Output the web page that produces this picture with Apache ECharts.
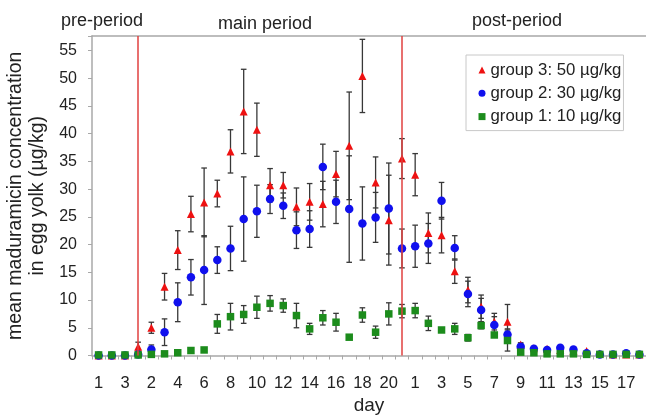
<!DOCTYPE html>
<html>
<head>
<meta charset="utf-8">
<script src="https://cdn.jsdelivr.net/npm/echarts@6/dist/echarts.min.js"></script>
<style>html,body{margin:0;padding:0;background:#fff}#c{width:646px;height:416px}</style>
</head>
<body>
<div id="c"></div>
<script>
// x categories: pre-period days 1-3, main period days 1-21, post-period days 1-18
const categories = ['1','2','3',
  '1','2','3','4','5','6','7','8','9','10','11','12','13','14','15','16','17','18','19','20','21',
  '1','2','3','4','5','6','7','8','9','10','11','12','13','14','15','16','17','18'];

// group 3: 50 µg/kg (mean, sd)
const g3 = [0,0,0, 1.6,5.0,12.4,19.0,25.5,27.6,29.2,36.8,44.0,40.7,30.7,30.7,26.8,27.7,27.3,32.7,37.8,50.4,31.2,24.4,35.5,
  32.6,22.1,21.7,15.2,11.8,8.8,6.1,6.1,2.0,1.3,1.2,1.0,0.8,0.8,0.3,0.2,0.2,0.2];
const g3err = [0,0,0, 0.8,1.0,2.4,3.5,3.2,6.2,2.4,3.9,7.6,4.8,3.0,2.3,3.4,3.3,4.1,4.1,9.7,6.6,4.6,8.1,3.6,
  3.8,3.6,3.2,2.2,2.3,2.1,1.5,3.1,0.3,0.2,0.2,0,0,0,0,0,0,0];

// group 2: 30 µg/kg
const g2 = [0,0,0, 0.2,1.1,4.2,9.6,14.1,15.4,17.2,19.3,24.6,26.0,28.2,27.0,22.6,22.8,34.0,27.7,26.4,23.8,24.9,26.5,19.3,
  19.7,20.2,27.9,19.4,11.1,8.2,5.5,3.8,1.6,1.2,1.0,1.4,1.1,0.4,0.2,0.2,0.4,0.2];
const g2err = [0,0,0, 0,0.8,2.4,3.5,3.2,6.2,2.4,4.0,7.6,4.7,2.6,2.3,3.3,3.3,4.1,3.9,9.6,6.6,4.5,8.2,3.5,
  3.8,3.6,3.3,2.2,2.3,2.1,1.5,1.0,0.4,0.3,0.3,0.2,0.2,0,0,0,0,0];

// group 1: 10 µg/kg
const g1 = [0.1,0.1,0.1, 0.1,0.2,0.3,0.5,0.9,1.0,5.7,7.0,7.4,8.7,9.4,9.0,7.2,4.8,6.8,6.0,3.3,7.3,4.2,7.5,8.0,
  8.1,5.8,4.6,4.8,3.2,5.4,3.7,2.7,0.6,0.5,0.3,0.3,0.3,0.2,0.2,0.2,0.2,0.2];
const g1err = [0,0,0, 0,0,0,0,0,0,1.7,2.4,1.6,2.0,1.4,1.2,2.2,1.0,1.3,1.6,0.3,1.3,1.1,2.0,1.2,
  1.3,1.3,0.4,1.0,0.6,0.6,0.3,1.9,0,0,0,0,0,0,0,0,0,0];

const periodLabels = ['pre-period','main period','post-period'];
const boundaryIdx = [3, 23];
const names = ['group 3: 50 µg/kg','group 2: 30 µg/kg','group 1: 10 µg/kg'];
const yTicks = [0,5,10,15,20,25,30,35,40,45,50,55];

const FONT = 'Liberation Sans, Arial, sans-serif';
const TXT = '#222';
const AX = '#a8a8a8';

function errRender(params, api){
  const x = api.value(0), v = api.value(1), e = api.value(2);
  if (!e) return null;
  const t = api.coord([x, v + e]), b = api.coord([x, v - e]);
  const w = 2.8;
  const st = {stroke:'#383838', lineWidth:1.3};
  return {type:'group', children:[
    {type:'line', shape:{x1:t[0],y1:t[1],x2:b[0],y2:b[1]}, style:st},
    {type:'line', shape:{x1:t[0]-w,y1:t[1],x2:t[0]+w,y2:t[1]}, style:st},
    {type:'line', shape:{x1:b[0]-w,y1:b[1],x2:b[0]+w,y2:b[1]}, style:st}
  ]};
}
function errData(vals, errs){ return vals.map((v,i)=>[i, v, errs[i]]); }

const chart = echarts.init(document.getElementById('c'), null, {renderer:'canvas'});
chart.setOption({
  animation:false,
  textStyle:{fontFamily:FONT},
  grid:{left:92, right:0, top:36, bottom:60.5, containLabel:false, outerBoundsMode:'none'},
  xAxis:[{
    type:'category', data:categories, boundaryGap:true,
    name:'day', nameLocation:'middle', nameGap:41,
    nameTextStyle:{fontSize:19, color:TXT, fontFamily:FONT},
    axisLine:{lineStyle:{color:AX, width:1.5}},
    axisTick:{show:true, interval:0, length:4, lineStyle:{color:AX}},
    axisLabel:{interval:1, fontSize:16.5, color:TXT, margin:19, fontFamily:FONT}
  },{
    type:'category', data:categories, position:'top',
    axisLine:{show:true, lineStyle:{color:AX, width:1.5}},
    axisTick:{show:false}, axisLabel:{show:false}
  }],
  yAxis:{
    type:'value', min:0, max:57.6, interval:5,
    name:'mean maduramicin concentration\nin egg yolk (µg/kg)',
    nameLocation:'middle', nameGap:43,
    nameTextStyle:{fontSize:19.5, lineHeight:22, color:TXT, fontFamily:FONT},
    axisLine:{show:true, lineStyle:{color:AX, width:1.5}},
    axisTick:{show:true, length:4, lineStyle:{color:AX}},
    splitLine:{show:false},
    axisLabel:{fontSize:16, color:TXT, margin:15, fontFamily:FONT,
      formatter:v => yTicks.indexOf(v) >= 0 ? String(v) : ''}
  },
  legend:{
    data:names, orient:'vertical', left:466, top:55,
    padding:[6,2,5,12.5], itemGap:5.3, itemWidth:7, itemHeight:7,
    borderColor:'#c8c8c8', borderWidth:1, backgroundColor:'#fff',
    textStyle:{fontSize:16.8, color:TXT, fontFamily:FONT, lineHeight:18}
  },
  graphic:[
    {type:'text', x:102, y:21, style:{text:periodLabels[0], font:'18px '+FONT, fill:TXT, align:'center', verticalAlign:'middle'}},
    {type:'text', x:265, y:24, style:{text:periodLabels[1], font:'18px '+FONT, fill:TXT, align:'center', verticalAlign:'middle'}},
    {type:'text', x:517, y:21, style:{text:periodLabels[2], font:'18px '+FONT, fill:TXT, align:'center', verticalAlign:'middle'}}
  ],
  series:[
    {type:'custom', name:'e3', renderItem:errRender, data:errData(g3,g3err), encode:{x:0,y:1}, z:1, silent:true,
      markLine:{silent:true, symbol:'none', label:{show:false},
        lineStyle:{color:'#e0413f', width:1.5, type:'solid'},
        data:boundaryIdx.map(i=>({xAxis:i}))}},
    {type:'custom', name:'e2', renderItem:errRender, data:errData(g2,g2err), encode:{x:0,y:1}, z:1, silent:true},
    {type:'custom', name:'e1', renderItem:errRender, data:errData(g1,g1err), encode:{x:0,y:1}, z:1, silent:true},
    {type:'scatter', name:names[0], data:g3, symbol:'triangle', symbolSize:8, itemStyle:{color:'#ee1111', opacity:1}, z:2},
    {type:'scatter', name:names[1], data:g2, symbol:'circle', symbolSize:8.5, itemStyle:{color:'#1010ee', opacity:1}, z:3},
    {type:'scatter', name:names[2], data:g1, symbol:'rect', symbolSize:7.5, itemStyle:{color:'#1c8c1c', opacity:1}, z:4}
  ]
});
</script>
</body>
</html>
